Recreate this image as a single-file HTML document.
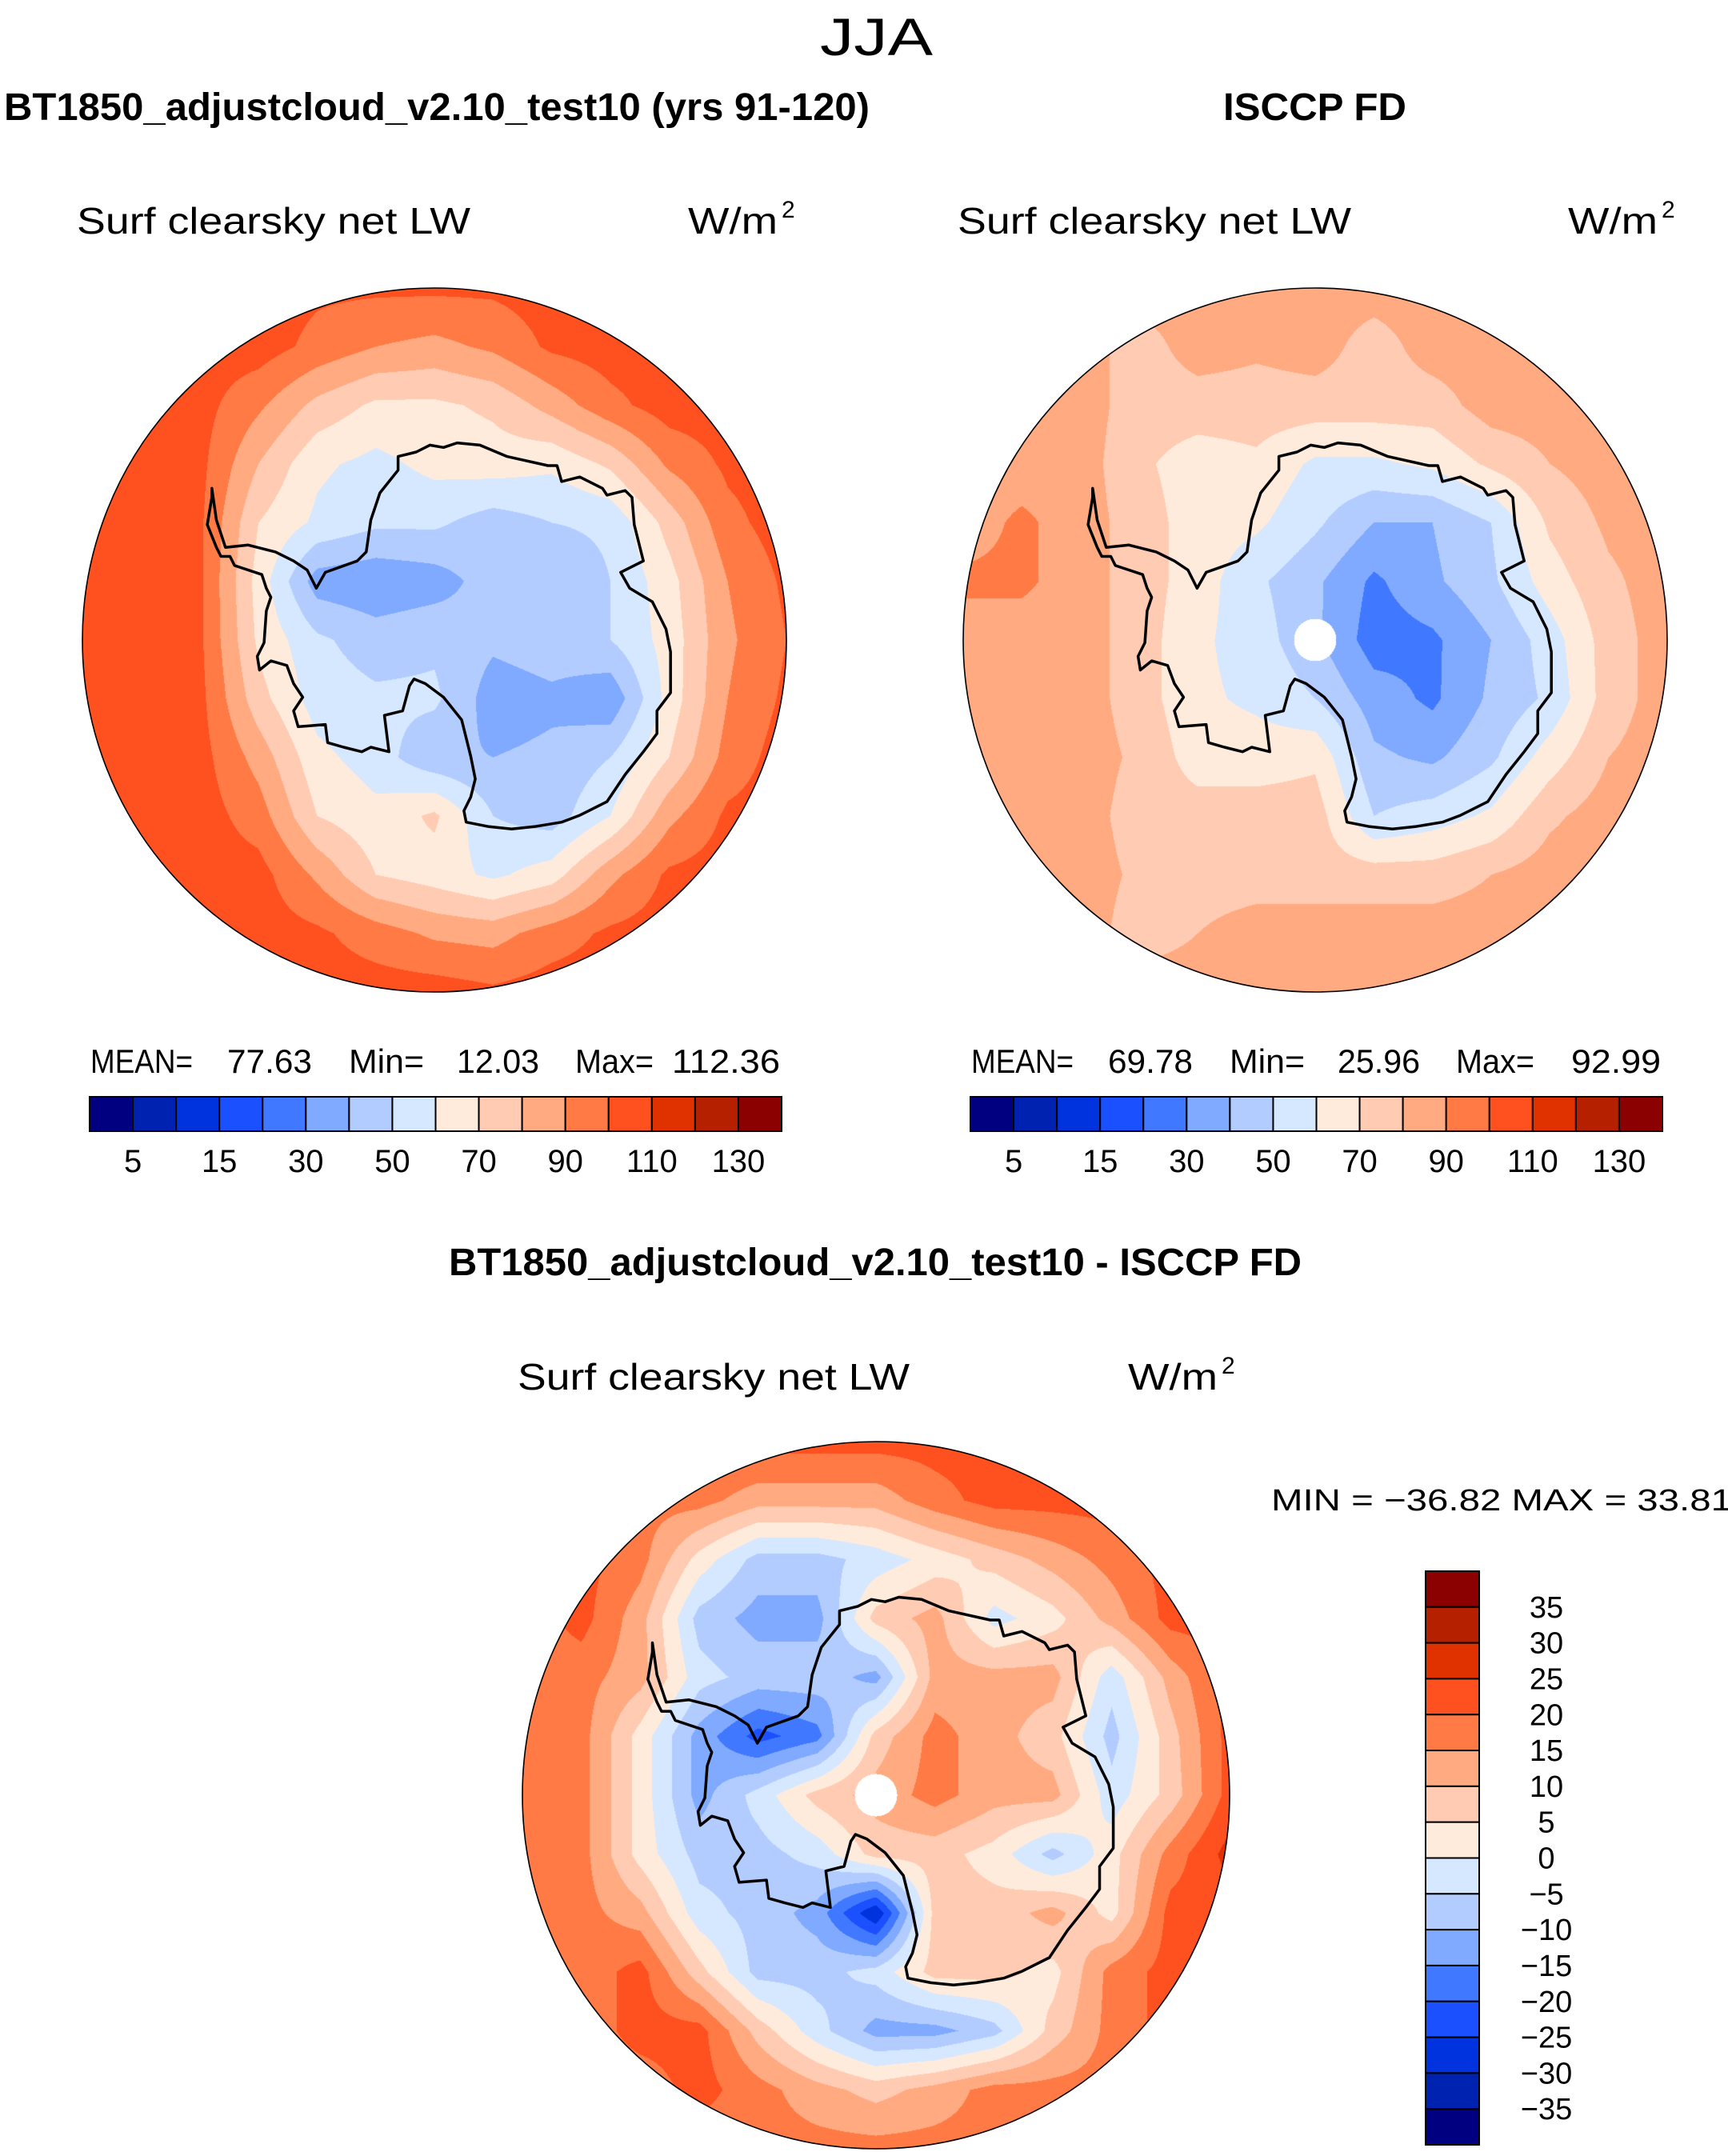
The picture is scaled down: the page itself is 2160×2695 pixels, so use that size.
<!DOCTYPE html>
<html><head><meta charset="utf-8">
<style>
html,body{margin:0;padding:0;background:#fff;}
#page{position:relative;width:2160px;height:2695px;overflow:hidden;background:#fff;}
canvas{position:absolute;}
svg{position:absolute;left:0;top:0;}
text{font-family:"Liberation Sans",sans-serif;fill:#000;}
</style></head>
<body>
<div id="page">
<canvas id="map1" width="880" height="880" style="left:103px;top:360px"></canvas>
<canvas id="map2" width="880" height="880" style="left:1204px;top:360px"></canvas>
<canvas id="map3" width="884" height="884" style="left:653px;top:1802px"></canvas>
<svg id="ov" width="2160" height="2695">
<text x="1025" y="69" font-size="66" textLength="141" lengthAdjust="spacingAndGlyphs">JJA</text>
<text x="5" y="150" font-size="48" font-weight="bold" textLength="1082" lengthAdjust="spacingAndGlyphs">BT1850_adjustcloud_v2.10_test10 (yrs 91-120)</text>
<text x="1529" y="150" font-size="48" font-weight="bold" textLength="229" lengthAdjust="spacingAndGlyphs">ISCCP FD</text>
<text x="96" y="292" font-size="46" textLength="492" lengthAdjust="spacingAndGlyphs">Surf  clearsky  net  LW</text>
<text x="860" y="292" font-size="46" textLength="112" lengthAdjust="spacingAndGlyphs">W/m</text>
<text x="977" y="272" font-size="30">2</text>
<text x="1197" y="292" font-size="46" textLength="492" lengthAdjust="spacingAndGlyphs">Surf  clearsky  net  LW</text>
<text x="1960" y="292" font-size="46" textLength="112" lengthAdjust="spacingAndGlyphs">W/m</text>
<text x="2077" y="272" font-size="30">2</text>

<g font-size="42">
<text x="113" y="1341" textLength="128" lengthAdjust="spacingAndGlyphs">MEAN=</text>
<text x="284" y="1341" textLength="106" lengthAdjust="spacingAndGlyphs">77.63</text>
<text x="436" y="1341" textLength="94" lengthAdjust="spacingAndGlyphs">Min=</text>
<text x="571" y="1341" textLength="103" lengthAdjust="spacingAndGlyphs">12.03</text>
<text x="719" y="1341" textLength="98" lengthAdjust="spacingAndGlyphs">Max=</text>
<text x="840" y="1341" textLength="135" lengthAdjust="spacingAndGlyphs">112.36</text>
</g>
<g font-size="42">
<text x="1214" y="1341" textLength="128" lengthAdjust="spacingAndGlyphs">MEAN=</text>
<text x="1385" y="1341" textLength="106" lengthAdjust="spacingAndGlyphs">69.78</text>
<text x="1537" y="1341" textLength="94" lengthAdjust="spacingAndGlyphs">Min=</text>
<text x="1672" y="1341" textLength="103" lengthAdjust="spacingAndGlyphs">25.96</text>
<text x="1820" y="1341" textLength="98" lengthAdjust="spacingAndGlyphs">Max=</text>
<text x="1964" y="1341" textLength="112" lengthAdjust="spacingAndGlyphs">92.99</text>
</g>

<text x="561" y="1594" font-size="48" font-weight="bold" textLength="1066" lengthAdjust="spacingAndGlyphs">BT1850_adjustcloud_v2.10_test10 - ISCCP FD</text>
<text x="647" y="1737" font-size="46" textLength="490" lengthAdjust="spacingAndGlyphs">Surf  clearsky  net  LW</text>
<text x="1410" y="1737" font-size="46" textLength="112" lengthAdjust="spacingAndGlyphs">W/m</text>
<text x="1527" y="1717" font-size="30">2</text>
<text x="1589" y="1888" font-size="38" textLength="576" lengthAdjust="spacingAndGlyphs">MIN  =  −36.82  MAX  =    33.81</text>
<g id="overlays"></g>
</svg>
</div>
<script>
// ---- data ----
const levelsAbs = [5,10,15,20,30,40,50,60,70,80,90,100,110,120,130];
const levelsDiff = [-35,-30,-25,-20,-15,-10,-5,0,5,10,15,20,25,30,35];
const palette = ["#000080","#0022b0","#0033dd","#1a50ff","#4078ff","#80aaff","#b3ccff","#d6e8ff","#ffebdc","#ffcbb3","#ffaa80","#ff7a45","#ff5020","#e03200","#b42000","#8b0000"];
const absTickLabels = ["5","15","30","50","70","90","110","130"];
const diffTickLabels = ["35","30","25","20","15","10","5","0","−5","−10","−15","−20","−25","−30","−35"];

// 13x13 grids over the polar stereographic disk, rows top->bottom
const modelGrid = [
[105,105,105,105,102,102,102,102,105,105,105,105,105],
[105,105,105,105,97,90,87,92,102,105,105,105,105],
[105,105,104,92,77,68,68,72,84,97,105,105,105],
[105,105,103,80,62,57,63,65,62,72,92,102,105],
[105,105,102,70,58,52,52,45,50,52,74,97,105],
[105,105,102,66,35,32,35,45,40,50,66,90,102],
[105,105,102,68,52,45,48,42,45,50,64,88,100],
[105,105,103,74,55,52,52,35,38,32,64,90,102],
[105,105,104,86,63,55,42,40,42,50,70,94,105],
[105,105,105,95,70,63,72,50,45,60,87,102,105],
[98,102,105,104,88,70,65,58,65,87,102,105,105],
[95,97,100,105,102,95,88,86,95,102,105,105,105],
[105,105,98,98,105,105,105,102,105,105,105,105,105]];
const obsGrid = [
[85,85,85,85,85,85,85,85,85,85,85,85,85],
[85,85,85,75,85,82,85,75,85,85,85,85,85],
[85,85,85,75,75,75,75,75,75,85,85,85,85],
[85,85,85,72,65,68,58,58,62,72,80,85,85],
[85,92,85,75,65,62,52,40,40,50,72,82,85],
[92,92,85,75,65,52,42,28,38,48,65,78,85],
[85,85,85,75,62,55,42,25,28,40,55,75,85],
[85,85,85,75,62,58,50,35,28,42,52,75,85],
[85,85,85,78,65,65,68,42,38,48,65,80,85],
[85,85,85,75,75,75,75,50,55,62,78,85,85],
[85,85,85,78,75,75,75,75,75,80,85,85,85],
[85,85,85,75,80,85,85,85,85,85,85,85,85],
[85,85,85,85,85,85,85,85,85,85,85,85,85]];
const diffGrid = [
[22,22,22,22,22,22,22,22,22,22,22,22,22],
[22,22,17,17,12,12,12,18,22,22,22,22,22],
[22,22,17,3,-7,-7,-3,2,7,12,17,22,22],
[17,22,12,-7,-12,-12,7,12,-2,3,12,22,22],
[17,17,12,-3,-7,-7,-12,12,12,12,-3,12,22],
[17,17,3,-12,-22,-17,7,17,12,7,-7,8,22],
[17,17,3,-12,-3,7,12,17,12,12,-3,7,22],
[17,17,3,-7,-7,-3,7,7,3,-7,3,17,27],
[17,17,12,-3,-7,-12,-30,7,7,12,3,22,22],
[17,17,22,7,-7,-7,-3,7,7,3,17,22,22],
[17,17,22,22,8,-3,-12,-12,-7,7,17,22,22],
[22,17,17,22,17,12,8,12,17,17,17,17,17],
[17,17,17,17,17,17,17,17,17,17,17,17,17]];

// coastline (reference-scan coordinates, circle centre 780,784, radius 775)
const coastline = [[290,450],[300,520],[320,580],[370,575],[430,590],[470,610],[500,630],[520,670],[540,635],[610,610],[630,590],[640,520],[660,460],[700,410],[700,380],[740,370],[770,355],[800,360],[830,350],[880,355],[940,380],[1030,400],[1050,400],[1060,435],[1100,425],[1150,450],[1160,465],[1200,455],[1215,470],[1220,530],[1240,610],[1190,635],[1210,670],[1260,700],[1290,760],[1300,810],[1300,900],[1270,940],[1270,990],[1240,1030],[1200,1080],[1180,1110],[1160,1140],[1100,1170],[1060,1185],[1000,1195],[950,1200],[900,1195],[850,1185],[845,1160],[860,1130],[870,1090],[860,1040],[840,960],[800,910],[760,880],[735,870],[725,885],[710,940],[670,950],[680,1030],[640,1020],[620,1030],[580,1020],[545,1010],[540,970],[480,975],[470,940],[490,910],[470,880],[455,840],[420,830],[395,850],[390,820],[405,790],[410,720],[420,690],[410,670],[400,640],[340,620],[330,600],[310,600],[300,580],[280,530],[290,470]];

function levelIndex(v, levels){let i=0;while(i<levels.length&&v>=levels[i])i++;return i;}
function hex(c){return [parseInt(c.substr(1,2),16),parseInt(c.substr(3,2),16),parseInt(c.substr(5,2),16)];}
const rgb = palette.map(hex);

function drawMap(id, grid, levels, hole){
  const cv=document.getElementById(id), ctx=cv.getContext('2d');
  const D=cv.width, R=D/2, n=grid.length-1;
  const img=ctx.createImageData(D,D), d=img.data;
  for(let y=0;y<D;y++){for(let x=0;x<D;x++){
    const u=(x+0.5-R)/R, v=(y+0.5-R)/R, rr=u*u+v*v;
    const k=(y*D+x)*4;
    if(rr>1){d[k+3]=0;continue;}
    if(hole && rr<hole*hole){d[k]=255;d[k+1]=255;d[k+2]=255;d[k+3]=255;continue;}
    let gx=(u+1)/2*n, gy=(v+1)/2*n;
    let i=Math.min(n-1,Math.floor(gx)), j=Math.min(n-1,Math.floor(gy));
    const fx=gx-i, fy=gy-j;
    const val=grid[j][i]*(1-fx)*(1-fy)+grid[j][i+1]*fx*(1-fy)+grid[j+1][i]*(1-fx)*fy+grid[j+1][i+1]*fx*fy;
    const c=rgb[levelIndex(val,levels)];
    d[k]=c[0];d[k+1]=c[1];d[k+2]=c[2];d[k+3]=255;
  }}
  ctx.putImageData(img,0,0);
}
drawMap('map1',modelGrid,levelsAbs,0);
drawMap('map2',obsGrid,levelsAbs,0.06);
drawMap('map3',diffGrid,levelsDiff,0.06);

const NS="http://www.w3.org/2000/svg";
const ov=document.getElementById('overlays');
function mk(tag,attrs,parent){const e=document.createElementNS(NS,tag);for(const k in attrs)e.setAttribute(k,attrs[k]);(parent||ov).appendChild(e);return e;}

const maps=[{cx:543,cy:800,r:440,name:'model'},{cx:1644,cy:800,r:440,name:'obs'},{cx:1095,cy:2244,r:442,name:'difference'}];
maps.forEach(m=>{
  const pts=coastline.map(p=>[m.cx+(p[0]-780)/775*m.r, m.cy+(p[1]-784)/775*m.r]);
  const path=mk('path',{d:'M'+pts.map(p=>p[0].toFixed(1)+','+p[1].toFixed(1)).join('L')+'Z',fill:'none',stroke:'#000','stroke-width':3.5,'stroke-linejoin':'round'});
  
  
  const c=mk('circle',{cx:m.cx,cy:m.cy,r:m.r,fill:'none',stroke:'#000','stroke-width':1.6});
  
  
});

// horizontal colorbars
[{x0:112,name:'model'},{x0:1213,name:'obs'}].forEach(cb=>{
  const w=865/16, y0=1371, h=43;
  for(let i=0;i<16;i++){
    const r=mk('rect',{x:cb.x0+i*w,y:y0,width:w,height:h,fill:palette[i],stroke:'#000','stroke-width':2});
    
    
  }
  absTickLabels.forEach((t,k)=>{
    const tx=mk('text',{x:cb.x0+(2*k+1)*w,y:1465,'font-size':40,'text-anchor':'middle'});
    tx.textContent=t;
    
    
  });
});

// vertical colorbar
(function(){
  const x0=1782, w=67, y0=1964, h=(2681-1964)/16;
  for(let i=0;i<16;i++){
    const r=mk('rect',{x:x0,y:y0+i*h,width:w,height:h,fill:palette[15-i],stroke:'#000','stroke-width':2});
    
    
  }
  diffTickLabels.forEach((t,k)=>{
    const tx=mk('text',{x:1933,y:y0+(k+1)*h+13,'font-size':38,'text-anchor':'middle'});
    tx.textContent=t;
    
    
  });
})();
</script>
</body></html>
